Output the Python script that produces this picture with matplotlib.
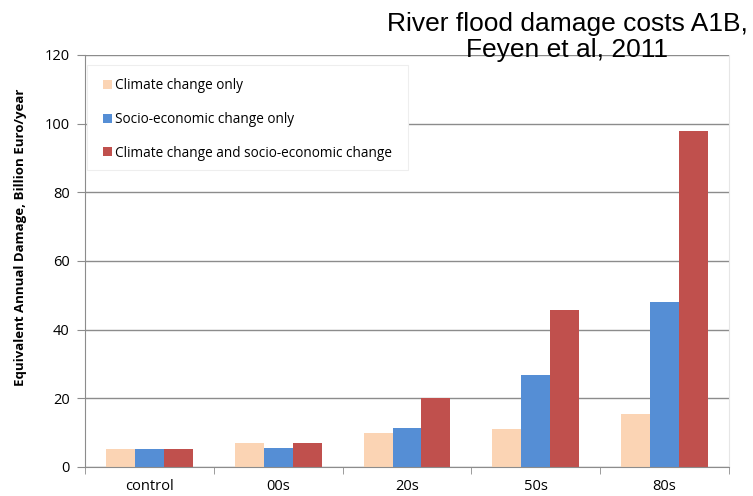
import numpy as np
import matplotlib
matplotlib.use('Agg')
from matplotlib import pyplot as plt
from matplotlib.patches import Rectangle

categories = ['control', '00s', '20s', '50s', '80s']
climate_only = [5.3, 7.0, 10.0, 11.1, 15.4]
socio_only = [5.3, 5.4, 11.4, 26.9, 48.0]
climate_and_socio = [5.3, 7.0, 20.2, 45.7, 98.0]
series_labels = ['Climate change only',
                 'Socio-economic change only',
                 'Climate change and socio-economic change']
colors = ['#FBD4B4', '#558ED5', '#C0504D']
y_ticks = [0, 20, 40, 60, 80, 100, 120]

plt.rcParams['font.family'] = ['Open Sans', 'DejaVu Sans']

fig = plt.figure(figsize=(7.53, 4.96), dpi=100)
ax = fig.add_axes([85 / 753, 1 - 467 / 496, 644 / 753, 412 / 496])

x = np.arange(len(categories))
width = 0.225
for i, (vals, lab, col) in enumerate(zip([climate_only, socio_only, climate_and_socio],
                                         series_labels, colors)):
    ax.bar(x + (i - 1) * width, vals, width, color=col, label=lab, zorder=2)

ax.set_xlim(-0.5, len(categories) - 0.5)
ax.set_ylim(0, 120)
ax.set_yticks(y_ticks)
ax.set_yticklabels([str(t) for t in y_ticks], fontsize=10.5)
ax.yaxis.grid(True, color='#8c8c8c', linewidth=1.0, zorder=0)
ax.set_axisbelow(True)

ax.set_xticks(x)
ax.set_xticklabels(categories, fontsize=10.5)
ax.set_xticks(np.arange(len(categories) + 1) - 0.5, minor=True)
ax.tick_params(axis='x', which='major', length=0, pad=9)
ax.tick_params(axis='x', which='minor', length=5, color='#8c8c8c')
ax.tick_params(axis='y', length=6, color='#8c8c8c', pad=5)

for side in ['left', 'bottom']:
    ax.spines[side].set_color('#8c8c8c')
ax.spines['top'].set_visible(False)
ax.spines['right'].set_color('#e6e6e6')

ax.set_ylabel('Equivalent Annual Damage, Billion Euro/year', fontsize=9.5,
              fontweight='bold')
ax.yaxis.set_label_coords(-0.09, 0.558)

# legend box, drawn separately so it can be wider than its text
ax.add_patch(Rectangle((0.003, 0.721), 0.498, 0.255, transform=ax.transAxes,
                       facecolor='white', edgecolor='#eeeeee', linewidth=0.8,
                       zorder=3))
leg = ax.legend(loc='upper left', bbox_to_anchor=(0.028, 0.944),
                fontsize=9.8, frameon=False,
                handlelength=0.65, handleheight=0.65, handletextpad=0.25,
                labelspacing=1.38, borderpad=0, borderaxespad=0)
leg.set_zorder(4)

fig.text(567 / 753, 0.975, 'River flood damage costs A1B,\nFeyen et al, 2011',
         ha='center', va='top', multialignment='center', fontsize=19,
         family='Liberation Sans', linespacing=1.1)

fig.savefig('out.png', dpi=100)
